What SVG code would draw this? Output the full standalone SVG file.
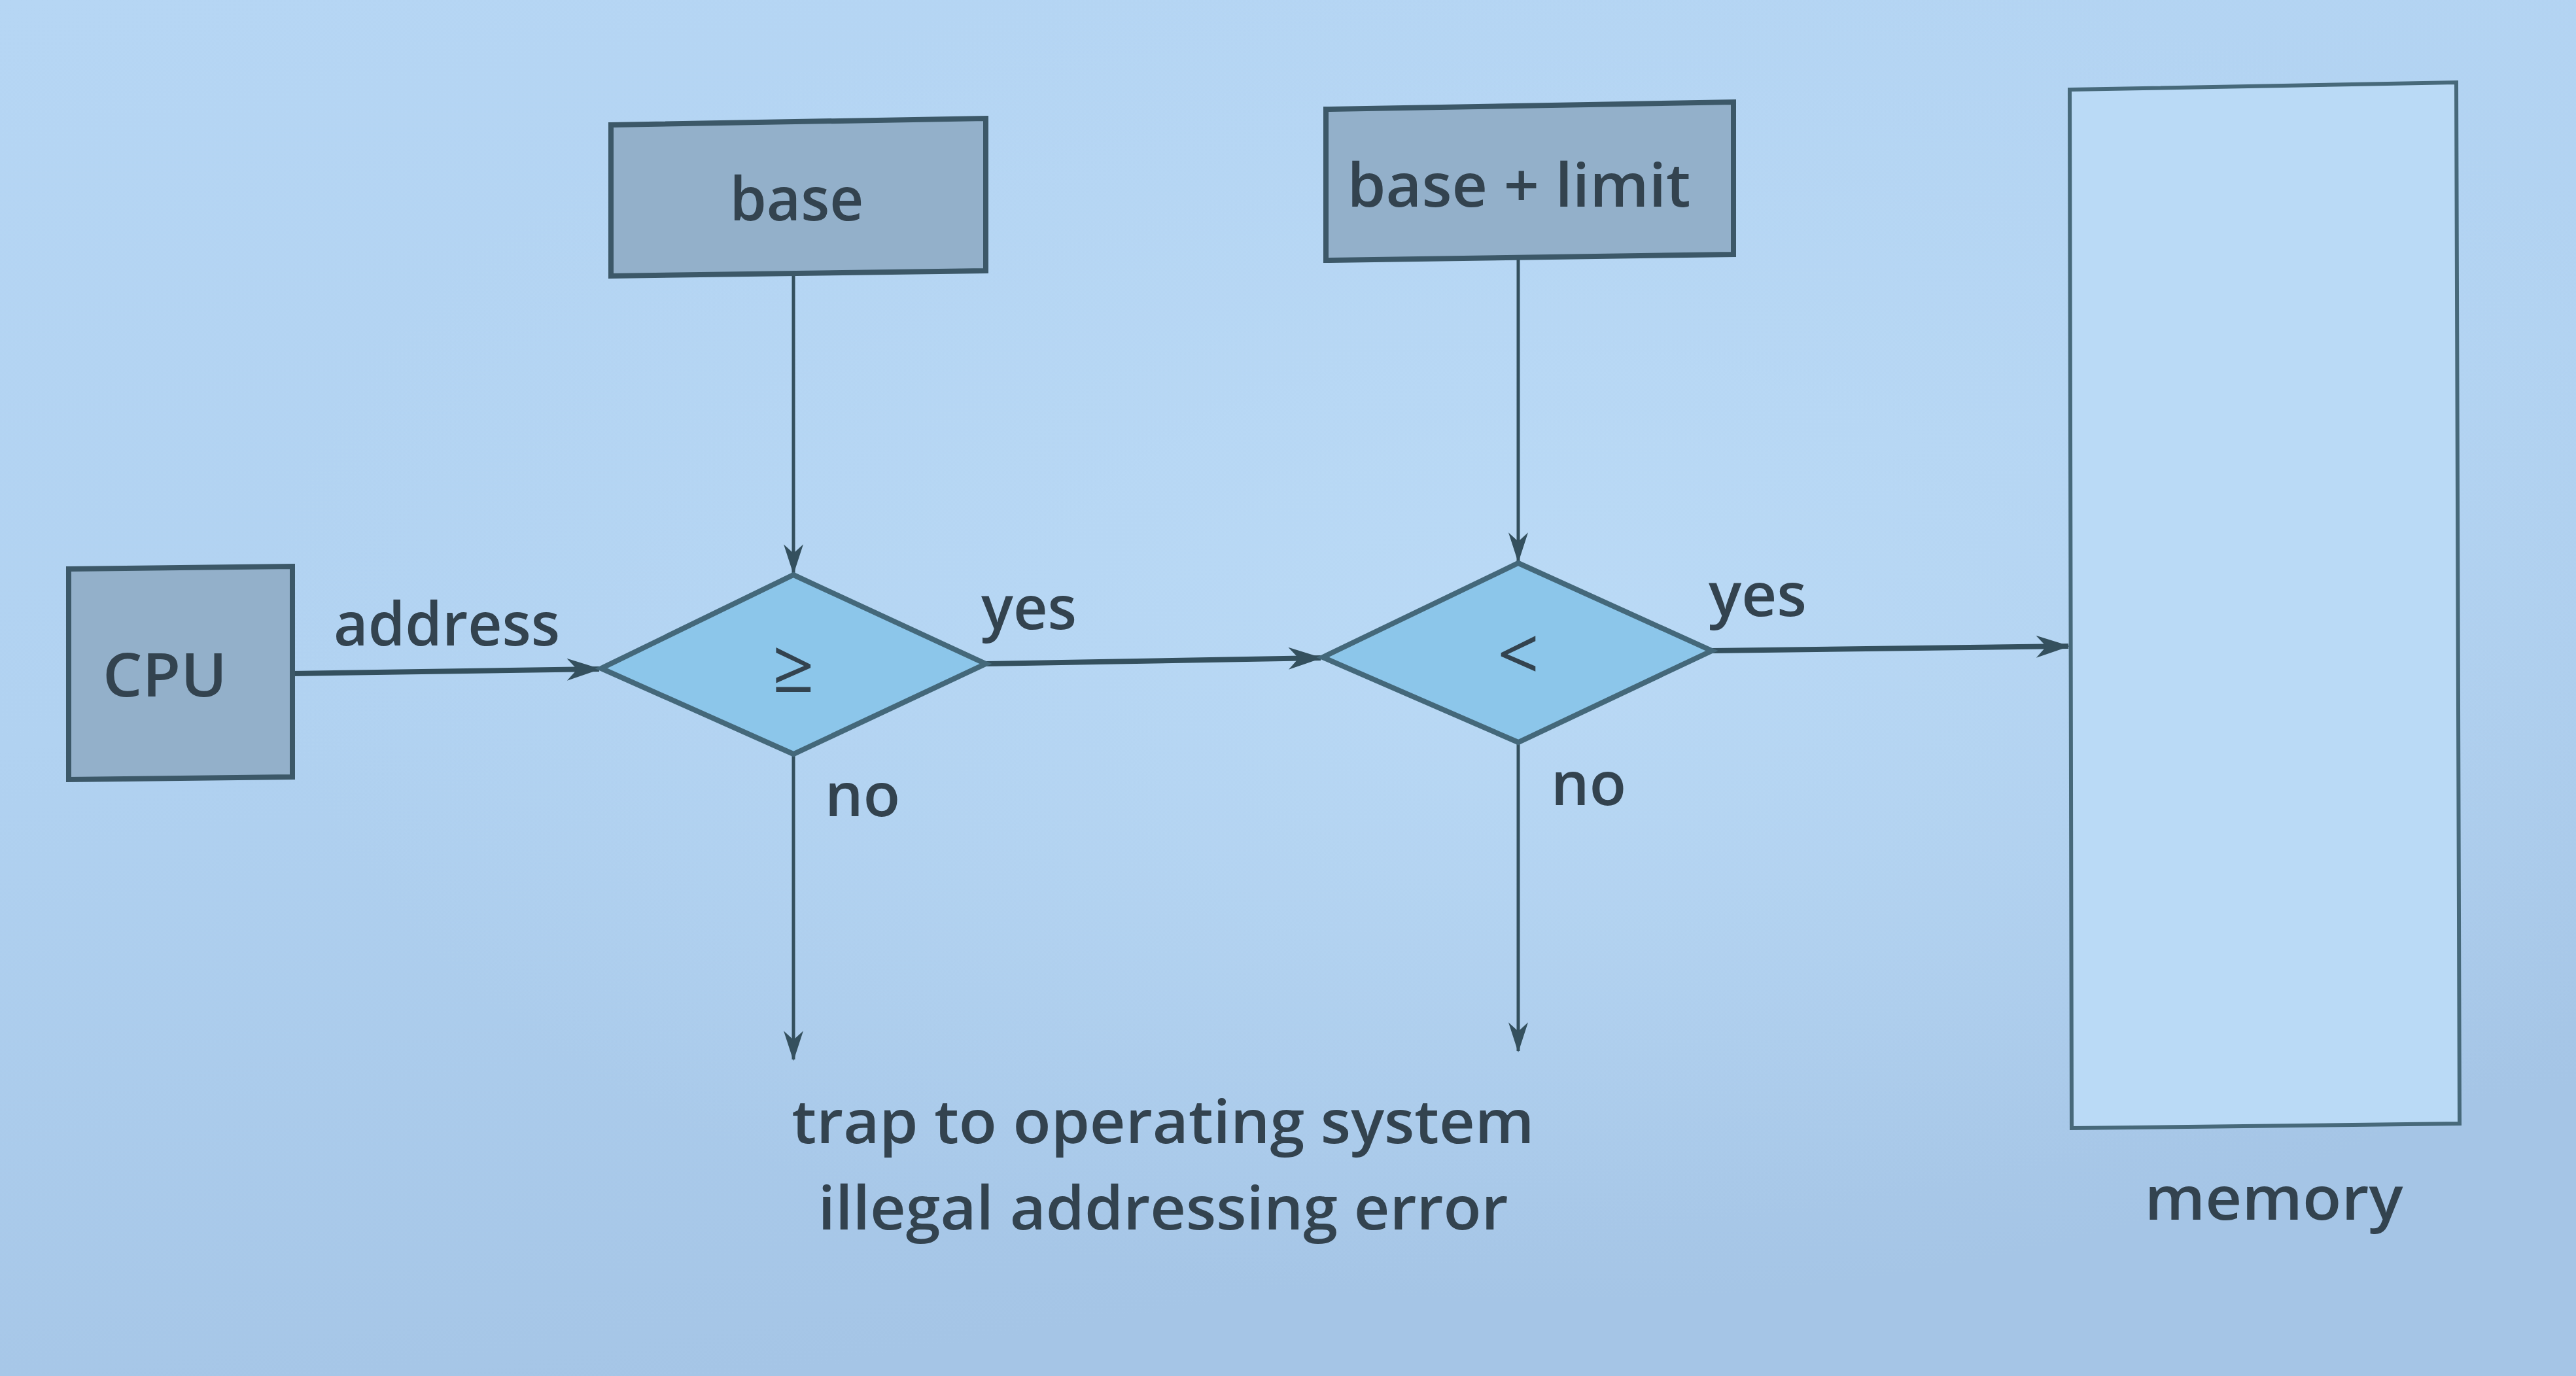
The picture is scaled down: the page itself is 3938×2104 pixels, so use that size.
<svg xmlns="http://www.w3.org/2000/svg" width="3938" height="2104" viewBox="0 0 3938 2104">
<defs>
<linearGradient id="bg" x1="0" y1="0" x2="0.3" y2="1">
<stop offset="0" stop-color="#b6d6f4"/>
<stop offset="0.5" stop-color="#b1d2f1"/>
<stop offset="1" stop-color="#a5c5e6"/>
</linearGradient>
<radialGradient id="glow" cx="0.6" cy="0.45" r="0.5">
<stop offset="0" stop-color="#bddcf7" stop-opacity="0.8"/>
<stop offset="1" stop-color="#bddcf7" stop-opacity="0"/>
</radialGradient>
<marker id="arr" viewBox="0 0 20 14" refX="19" refY="7" markerWidth="46" markerHeight="30" markerUnits="userSpaceOnUse" orient="auto" preserveAspectRatio="none">
<path d="M0,0 L20,7 L0,14 L6,7 Z" fill="#34505e"/>
</marker>
<marker id="arrL" viewBox="0 0 20 14" refX="19" refY="7" markerWidth="52" markerHeight="34" markerUnits="userSpaceOnUse" orient="auto" preserveAspectRatio="none">
<path d="M0,0 L20,7 L0,14 L6,7 Z" fill="#34505e"/>
</marker>
</defs>
<style>
.box{fill:#93b0ca;stroke:#3c5868;stroke-width:8}
.dia{fill:#8cc6ea;stroke:#44687a;stroke-width:8;stroke-linejoin:miter}
.mem{fill:#badaf6;stroke:#47697a;stroke-width:6}
.t{font-family:"Open Sans","Noto Sans","Liberation Sans",sans-serif;fill:#33434f;font-size:92px;font-weight:600}
.c{text-anchor:middle}
.ln{stroke:#34505e;fill:none}
.h{stroke-width:8}
.v{stroke-width:5}
</style>
<rect x="0" y="0" width="3938" height="2104" fill="url(#bg)"/>
<rect x="0" y="0" width="3938" height="2104" fill="url(#glow)"/>

<g id="connectors">
<line class="ln h" x1="447" y1="1030" x2="916" y2="1023" marker-end="url(#arrL)"/>
<line class="ln v" x1="1213" y1="419" x2="1213" y2="876" marker-end="url(#arr)"/>
<line class="ln h" x1="1507" y1="1015" x2="2019" y2="1006" marker-end="url(#arrL)"/>
<line class="ln v" x1="2321" y1="397" x2="2321" y2="858" marker-end="url(#arr)"/>
<line class="ln h" x1="2617" y1="995" x2="3162" y2="988" marker-end="url(#arrL)"/>
<line class="ln v" x1="1213" y1="1153" x2="1213" y2="1620" marker-end="url(#arr)"/>
<line class="ln v" x1="2321" y1="1135" x2="2321" y2="1607" marker-end="url(#arr)"/>
<text class="t" x="510" y="987" textLength="346" lengthAdjust="spacingAndGlyphs">address</text>
<text class="t" x="1500" y="962" textLength="146" lengthAdjust="spacingAndGlyphs">yes</text>
<text class="t" x="2612" y="942" textLength="150" lengthAdjust="spacingAndGlyphs">yes</text>
<text class="t" x="1261" y="1248" textLength="115" lengthAdjust="spacingAndGlyphs">no</text>
<text class="t" x="2371" y="1231" textLength="115" lengthAdjust="spacingAndGlyphs">no</text>
</g>

<g id="cpu">
<polygon class="box" points="105,870 447,866 447,1188 105,1192"/>
<text class="t c" x="252" y="1065" textLength="190" lengthAdjust="spacingAndGlyphs">CPU</text>
</g>

<g id="base">
<polygon class="box" points="934,191 1507,181 1507,414 934,422"/>
<text class="t c" x="1218" y="337" textLength="205" lengthAdjust="spacingAndGlyphs">base</text>
</g>

<g id="baselimit">
<polygon class="box" points="2027,167 2650,156 2650,389 2027,398"/>
<text class="t c" x="2322" y="316" textLength="525" lengthAdjust="spacingAndGlyphs">base + limit</text>
</g>

<g id="cmp-ge">
<polygon class="dia" points="919,1022 1213,879 1507,1015 1213,1153"/>
<text class="t c" x="1213" y="1058" style="font-size:112px;font-weight:500">≥</text>
</g>

<g id="cmp-lt">
<polygon class="dia" points="2022,1005 2321,861 2617,995 2321,1135"/>
<text class="t c" x="2321" y="1040" style="font-size:112px;font-weight:500">&lt;</text>
</g>

<g id="memory">
<polygon class="mem" points="3164,137 3755,126 3760,1718 3167,1725"/>
<text class="t c" x="3476" y="1865" textLength="395" lengthAdjust="spacingAndGlyphs">memory</text>
</g>

<g id="trap">
<text class="t c" x="1778" y="1748" textLength="1135" lengthAdjust="spacingAndGlyphs">trap to operating system</text>
<text class="t c" x="1778" y="1880" textLength="1055" lengthAdjust="spacingAndGlyphs">illegal addressing error</text>
</g>
</svg>
